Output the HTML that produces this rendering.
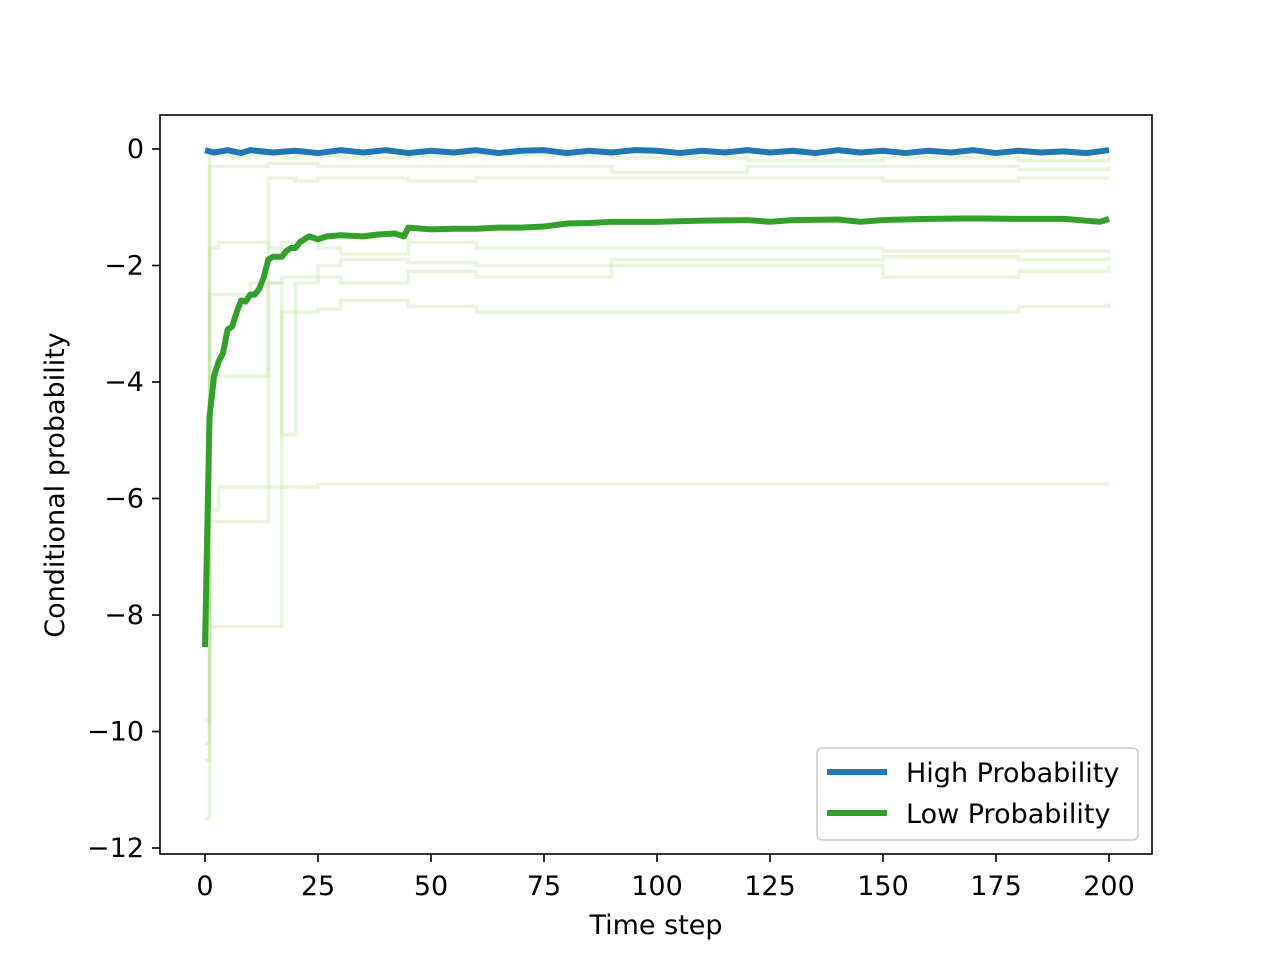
<!DOCTYPE html>
<html><head><meta charset="utf-8">
<style>
body{margin:0;background:#fff;}
svg text{font-family:"DejaVu Sans","Liberation Sans",sans-serif;fill:#000;}
</style></head>
<body>
<svg id="chart" width="1280" height="960" viewBox="0 0 1280 960" xmlns="http://www.w3.org/2000/svg">
<rect x="0" y="0" width="1280" height="960" fill="#fff"/>
<g id="faint"></g>
<g id="main"></g>
<rect x="160" y="115" width="992" height="739" fill="none" stroke="#000" stroke-width="1.6"/>
<g id="xticks"></g>
<g id="yticks"></g>
<text x="656" y="934" font-size="27" text-anchor="middle">Time step</text>
<text x="0" y="0" font-size="27" text-anchor="middle" transform="translate(64,485) rotate(-90)">Conditional probability</text>
<g>
<rect x="817" y="748" width="321" height="92" rx="5" fill="#fff" fill-opacity="0.8" stroke="#ccc" stroke-width="1.6"/>
<line x1="827" y1="772" x2="887" y2="772" stroke="#1f77b4" stroke-width="6"/>
<text x="906" y="782" font-size="27">High Probability</text>
<line x1="827" y1="813" x2="887" y2="813" stroke="#33a02c" stroke-width="6"/>
<text x="906" y="823" font-size="27">Low Probability</text>
</g>
</svg>
<script>
const xTicks=[0,25,50,75,100,125,150,175,200];
const yTicks=[0,-2,-4,-6,-8,-10,-12];
const lowT=[0,1,2,3,4,5,6,7,8,9,10,11,12,13,14,15,17,18,19,20,21,22,23,25,27,30,35,38,42,44,45,50,55,60,65,70,75,80,85,90,100,110,120,125,130,140,145,150,160,170,180,190,198,200];
const lowV=[-8.55,-4.6,-3.9,-3.65,-3.5,-3.1,-3.05,-2.8,-2.6,-2.62,-2.5,-2.5,-2.4,-2.2,-1.9,-1.85,-1.85,-1.75,-1.7,-1.7,-1.6,-1.55,-1.5,-1.55,-1.5,-1.48,-1.5,-1.47,-1.45,-1.5,-1.35,-1.38,-1.37,-1.37,-1.35,-1.35,-1.33,-1.28,-1.27,-1.25,-1.25,-1.23,-1.22,-1.25,-1.22,-1.21,-1.25,-1.22,-1.2,-1.19,-1.2,-1.2,-1.25,-1.2];
const highT=[0,2,5,8,10,15,20,25,30,35,40,45,50,55,60,65,70,75,80,85,90,95,100,105,110,115,120,125,130,135,140,145,150,155,160,165,170,175,180,185,190,195,200];
const highV=[-0.02,-0.06,-0.02,-0.07,-0.02,-0.06,-0.03,-0.07,-0.02,-0.06,-0.02,-0.07,-0.03,-0.06,-0.02,-0.07,-0.03,-0.02,-0.07,-0.03,-0.06,-0.02,-0.03,-0.07,-0.03,-0.06,-0.02,-0.06,-0.03,-0.07,-0.02,-0.06,-0.03,-0.07,-0.03,-0.06,-0.02,-0.07,-0.03,-0.06,-0.04,-0.07,-0.02];
const runT=[0,1,3,6,10,14,17,20,25,30,45,60,90,120,150,180,200];
const runA=[-11.5,-0.3,-0.3,-0.3,-0.3,-0.25,-0.25,-0.25,-0.3,-0.3,-0.3,-0.3,-0.4,-0.3,-0.3,-0.35,-0.3];
const runB=[-10.2,-1.7,-1.6,-1.6,-1.6,-1.7,-1.6,-1.6,-1.7,-1.8,-1.6,-1.7,-1.7,-1.7,-1.75,-1.75,-1.8];
const runC=[-9.8,-6.2,-5.8,-5.8,-5.8,-5.8,-5.8,-5.8,-5.75,-5.75,-5.75,-5.75,-5.75,-5.75,-5.75,-5.75,-5.75];
const runD=[-8.2,-8.2,-8.2,-8.2,-8.2,-8.2,-2.8,-2.8,-2.75,-2.6,-2.7,-2.8,-2.8,-2.8,-2.8,-2.7,-2.65];
const runE=[-7.9,-6.4,-6.4,-6.4,-6.4,-2.3,-2.2,-2.2,-2.0,-1.9,-1.95,-2.0,-1.9,-1.9,-1.85,-1.9,-1.85];
const runF=[-10.5,-0.1,-0.1,-0.15,-0.1,-0.1,-0.15,-0.1,-0.12,-0.15,-0.12,-0.1,-0.15,-0.2,-0.15,-0.2,-0.1];
const runG=[-6.0,-3.9,-3.9,-3.9,-3.9,-0.5,-0.5,-0.55,-0.5,-0.5,-0.55,-0.5,-0.5,-0.5,-0.55,-0.5,-0.5];
const runH=[-8.0,-2.5,-2.5,-2.5,-2.3,-2.3,-4.9,-2.3,-2.2,-2.3,-2.1,-2.2,-2.0,-2.0,-2.2,-2.1,-2.0];
const runs=[runA,runB,runC,runD,runE,runF,runG,runH];
const sx=v=>205+(v-0)*(1109-205)/200;
const sy=v=>149+(0-v)*(848-149)/12;
const NS="http://www.w3.org/2000/svg";
const xg=document.getElementById('xticks'),yg=document.getElementById('yticks');
xTicks.forEach(t=>{const l=document.createElementNS(NS,'line');l.setAttribute('x1',sx(t));l.setAttribute('x2',sx(t));l.setAttribute('y1',854);l.setAttribute('y2',862);l.setAttribute('stroke','#000');l.setAttribute('stroke-width','1.6');


xg.appendChild(l);const tx=document.createElementNS(NS,'text');tx.setAttribute('x',sx(t));tx.setAttribute('y',895);tx.setAttribute('font-size','27');tx.setAttribute('text-anchor','middle');tx.textContent=t;


xg.appendChild(tx);});
yTicks.forEach(t=>{const l=document.createElementNS(NS,'line');l.setAttribute('x1',152);l.setAttribute('x2',160);l.setAttribute('y1',sy(t));l.setAttribute('y2',sy(t));l.setAttribute('stroke','#000');l.setAttribute('stroke-width','1.6');


yg.appendChild(l);const tx=document.createElementNS(NS,'text');tx.setAttribute('x',144);tx.setAttribute('y',sy(t)+9);tx.setAttribute('font-size','27');tx.setAttribute('text-anchor','end');tx.textContent=t<0?'\u2212'+(-t):t;


yg.appendChild(tx);});
function path(ts,vs,stepped){let d='';ts.forEach((t,i)=>{if(i===0)d+='M'+sx(t)+','+sy(vs[i]);else{if(stepped)d+='L'+sx(t)+','+sy(vs[i-1]);d+='L'+sx(t)+','+sy(vs[i]);}});return d;}
const fg=document.getElementById('faint');
runs.forEach(r=>{const p=document.createElementNS(NS,'path');p.setAttribute('d',path(runT,r,true));p.setAttribute('fill','none');p.setAttribute('stroke','#b2df8a');p.setAttribute('stroke-opacity','0.3');p.setAttribute('stroke-width','3.5');


fg.appendChild(p);});
const mg=document.getElementById('main');
const hp=document.createElementNS(NS,'path');hp.setAttribute('d',path(highT,highV,false));hp.setAttribute('fill','none');hp.setAttribute('stroke','#1f77b4');hp.setAttribute('stroke-width','6');hp.setAttribute('stroke-linejoin','round');


mg.appendChild(hp);
const lp=document.createElementNS(NS,'path');lp.setAttribute('d',path(lowT,lowV,false));lp.setAttribute('fill','none');lp.setAttribute('stroke','#33a02c');lp.setAttribute('stroke-width','6');lp.setAttribute('stroke-linejoin','round');


mg.appendChild(lp);
</script>
</body></html>
